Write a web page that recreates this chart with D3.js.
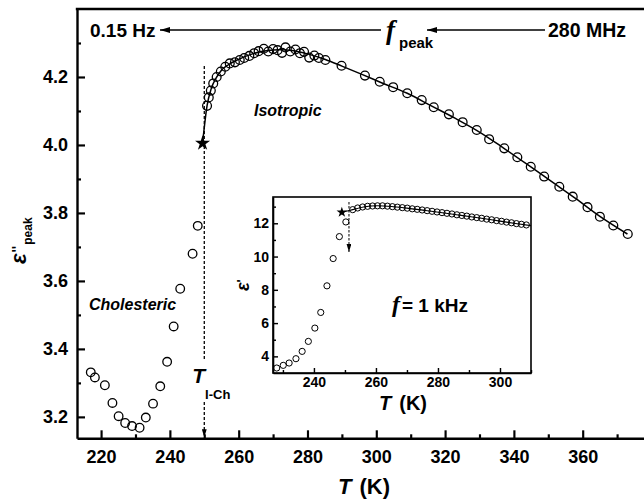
<!DOCTYPE html>
<html>
<head>
<meta charset="utf-8">
<script src="https://cdn.jsdelivr.net/npm/d3@7"></script>
<style>
  body { margin: 0; background: #fff; }
  text { font-family: "Liberation Sans", Arial, sans-serif; font-weight: bold; fill: #000; }
</style>
</head>
<body>
<svg id="chart" width="644" height="501"></svg>
<script>
// ---- main panel: dielectric loss peak amplitude vs temperature ----
const cholestericT   = [217.0, 218.2, 221.1, 223.3, 225.1, 227.0, 229.0, 231.2, 233.0, 235.1, 237.2, 239.2, 241.1, 243.0, 246.6, 248.1];
const cholestericEps = [3.331, 3.316, 3.293, 3.241, 3.202, 3.182, 3.173, 3.168, 3.198, 3.239, 3.290, 3.362, 3.466, 3.577, 3.680, 3.762];

const isotropicT   = [250.8, 251.3, 251.9, 252.6, 253.6, 254.8, 256.1, 257.4, 258.9, 260.3, 261.6, 263.1, 264.5, 265.8, 267.3, 268.6,
                      270.0, 271.3, 272.6, 273.6, 275.0, 276.5, 277.8, 279.0, 280.5, 282.0, 283.3, 285.2, 289.9, 296.7, 301.0, 304.9,
                      309.0, 313.2, 316.7, 321.1, 325.1, 329.2, 332.8, 337.2, 341.0, 344.9, 348.8, 353.2, 357.1, 361.4, 365.0, 368.9, 373.1];
const isotropicEps = [4.115, 4.140, 4.160, 4.181, 4.200, 4.216, 4.230, 4.240, 4.243, 4.250, 4.256, 4.262, 4.270, 4.276, 4.283, 4.275,
                      4.282, 4.279, 4.271, 4.287, 4.275, 4.281, 4.270, 4.274, 4.257, 4.263, 4.256, 4.250, 4.233, 4.204, 4.186, 4.170,
                      4.152, 4.132, 4.111, 4.090, 4.067, 4.044, 4.017, 3.990, 3.964, 3.936, 3.907, 3.877, 3.848, 3.817, 3.789, 3.763, 3.738];

const fitT   = [249.5, 250.8, 252.0, 253.5, 255.0, 257.0, 260.0, 264.0, 268.0, 272.0, 276.0, 280.0, 285.0, 290.0, 296.0, 302.0,
                309.0, 316.0, 323.0, 330.0, 337.0, 344.0, 351.0, 358.0, 365.0, 373.0];
const fitEps = [4.005, 4.115, 4.165, 4.198, 4.220, 4.236, 4.252, 4.268, 4.277, 4.280, 4.277, 4.268, 4.252, 4.232, 4.207, 4.181,
                4.152, 4.115, 4.078, 4.038, 3.991, 3.942, 3.892, 3.842, 3.790, 3.738];

const transitionT = 250.0;                 // T_I-Ch
const starMain = [249.5, 4.005];

const mainXTicks = [220, 240, 260, 280, 300, 320, 340, 360];
const mainXMinor = [230, 250, 270, 290, 310, 330, 350, 370];
const mainYTicks = [3.2, 3.4, 3.6, 3.8, 4.0, 4.2];
const mainYMinor = [3.3, 3.5, 3.7, 3.9, 4.1, 4.3];

// ---- inset: permittivity at 1 kHz ----
const insetLowT   = [228.0, 230.1, 232.0, 234.2, 236.2, 238.2, 240.3, 242.2, 244.2, 246.2, 248.2, 250.3];
const insetLowEps = [3.30, 3.46, 3.60, 3.86, 4.30, 4.90, 5.70, 6.64, 8.24, 9.88, 11.20, 12.08];

const insetHighT   = [252.5, 254.1, 255.7, 257.3, 258.9, 260.5, 262.1, 263.7, 265.3, 266.9, 268.5, 270.1, 271.7, 273.3, 274.9, 276.5,
                      278.1, 279.7, 281.3, 282.9, 284.5, 286.1, 287.7, 289.3, 290.9, 292.5, 294.1, 295.7, 297.3, 298.9, 300.5, 302.1,
                      303.7, 305.3, 306.9, 308.5];
const insetHighEps = [12.82, 12.92, 12.98, 13.02, 13.04, 13.05, 13.05, 13.03, 13.00, 12.97, 12.94, 12.91, 12.87, 12.84, 12.80, 12.76,
                      12.72, 12.68, 12.64, 12.60, 12.56, 12.51, 12.47, 12.43, 12.38, 12.34, 12.30, 12.25, 12.21, 12.16, 12.12, 12.07,
                      12.03, 11.98, 11.94, 11.90];

const insetFitT   = [249.0, 252.5, 256.0, 260.5, 265.0, 270.0, 276.0, 282.0, 288.0, 294.0, 300.0, 305.0, 310.0];
const insetFitEps = [12.66, 12.82, 12.98, 13.05, 13.01, 12.91, 12.77, 12.62, 12.46, 12.30, 12.13, 11.99, 11.86];

const starInset = [249.0, 12.66];
const insetArrowT = 251.3;

const insetXTicks = [240, 260, 280, 300];
const insetXMinor = [230, 250, 270, 290, 310];
const insetYTicks = [4, 6, 8, 10, 12];
const insetYMinor = [5, 7, 9, 11, 13];

// ------------------------------------------------------------------
const svg = d3.select("#chart");

const defs = svg.append("defs");
defs.append("marker").attr("id", "head").attr("viewBox", "0 0 10 6")
  .attr("refX", 10).attr("refY", 3).attr("markerUnits", "userSpaceOnUse")
  .attr("markerWidth", 11).attr("markerHeight", 6).attr("orient", "auto")
  .append("path").attr("d", "M0,0L10,3L0,6Z").attr("fill", "#000");
defs.append("marker").attr("id", "headSmall").attr("viewBox", "0 0 10 6")
  .attr("refX", 10).attr("refY", 3).attr("markerUnits", "userSpaceOnUse")
  .attr("markerWidth", 8).attr("markerHeight", 5).attr("orient", "auto")
  .append("path").attr("d", "M0,0L10,3L0,6Z").attr("fill", "#000");

// main scales
const x = d3.scaleLinear().domain([213, 380]).range([77, 651.5]);
const y = d3.scaleLinear().domain([3.137, 4.4]).range([438.3, 9]);

function styleAxis(g, w) {
  g.select(".domain").attr("stroke", "#000").attr("stroke-width", w);
  g.selectAll(".tick line").attr("stroke", "#000").attr("stroke-width", w * 0.9);
}

// bottom axis (ticks inward)
const gx = svg.append("g").attr("transform", `translate(0,${y.range()[0]})`)
  .call(d3.axisBottom(x).tickValues(mainXTicks).tickSizeInner(-8).tickSizeOuter(0).tickPadding(12).tickFormat(d3.format("d")));
gx.selectAll("text").style("font-size", "18px");
styleAxis(gx, 2.4);
const gxm = svg.append("g").attr("transform", `translate(0,${y.range()[0]})`)
  .call(d3.axisBottom(x).tickValues(mainXMinor).tickSizeInner(-4).tickSizeOuter(0).tickFormat(""));
gxm.select(".domain").remove();
styleAxis(gxm, 2.4);

// left axis
const gy = svg.append("g").attr("transform", `translate(${x.range()[0]},0)`)
  .call(d3.axisLeft(y).tickValues(mainYTicks).tickSizeInner(-8).tickSizeOuter(0).tickPadding(9).tickFormat(d3.format(".1f")));
gy.selectAll("text").style("font-size", "18px");
styleAxis(gy, 2.4);
const gym = svg.append("g").attr("transform", `translate(${x.range()[0]},0)`)
  .call(d3.axisLeft(y).tickValues(mainYMinor).tickSizeInner(-4).tickSizeOuter(0).tickFormat(""));
gym.select(".domain").remove();
styleAxis(gym, 2.4);

// top frame line
svg.append("line").attr("x1", x.range()[0] - 1.2).attr("x2", x.range()[1])
  .attr("y1", y.range()[1]).attr("y2", y.range()[1]).attr("stroke", "#000").attr("stroke-width", 2.4);

// axis titles
const xt = svg.append("text").attr("x", 338).attr("y", 494).style("font-size", "22px");
xt.append("tspan").text("T").style("font-style", "italic");
xt.append("tspan").text("(K)").attr("dx", 8);

const yt = svg.append("text").attr("transform", "translate(26,264) rotate(-90)");
yt.append("tspan").text("ε").style("font-style", "italic").style("font-size", "22px");
yt.append("tspan").text("''").style("font-size", "14px").attr("dx", 1).attr("dy", -4);
yt.append("tspan").text("peak").style("font-size", "12px").attr("dx", 1).attr("dy", 10);

// transition line with downward arrow, broken by its label
const tx = x(transitionT);
svg.append("line").attr("x1", tx).attr("x2", tx).attr("y1", 66).attr("y2", 360)
  .attr("stroke", "#000").attr("stroke-width", 1.3).attr("stroke-dasharray", "3,2");
svg.append("line").attr("x1", tx).attr("x2", tx).attr("y1", 402).attr("y2", y.range()[0] - 1)
  .attr("stroke", "#000").attr("stroke-width", 1.3).attr("stroke-dasharray", "3,2")
  .attr("marker-end", "url(#headSmall)");
const tl = svg.append("text").attr("x", tx - 12).attr("y", 383).style("font-size", "21px");
tl.append("tspan").text("T").style("font-style", "italic");
tl.append("tspan").text("I-Ch").style("font-size", "13px").attr("dx", 0).attr("dy", 16);

// fit curve through the isotropic points
const fitLine = d3.line().x(d => x(d[0])).y(d => y(d[1])).curve(d3.curveMonotoneX);
svg.append("path").datum(d3.zip(fitT, fitEps)).attr("d", fitLine)
  .attr("fill", "none").attr("stroke", "#000").attr("stroke-width", 1.5);

// data points
svg.append("g").selectAll("circle").data(d3.zip(cholestericT, cholestericEps)).join("circle")
  .attr("cx", d => x(d[0])).attr("cy", d => y(d[1])).attr("r", 4.3)
  .attr("fill", "none").attr("stroke", "#000").attr("stroke-width", 1.3);
svg.append("g").selectAll("circle").data(d3.zip(isotropicT, isotropicEps)).join("circle")
  .attr("cx", d => x(d[0])).attr("cy", d => y(d[1])).attr("r", 4.4)
  .attr("fill", "none").attr("stroke", "#000").attr("stroke-width", 1.3);

svg.append("path").attr("d", d3.symbol(d3.symbolStar, 70)())
  .attr("transform", `translate(${x(starMain[0])},${y(starMain[1])})`).attr("fill", "#000");

// phase labels
svg.append("text").attr("x", 254).attr("y", 116).style("font-size", "16px").style("font-style", "italic").text("Isotropic");
svg.append("text").attr("x", 89).attr("y", 310).style("font-size", "16px").style("font-style", "italic").text("Cholesteric");

// frequency-sweep annotation
svg.append("text").attr("x", 90).attr("y", 37).style("font-size", "19px").text("0.15 Hz");
svg.append("line").attr("x1", 381).attr("x2", 160).attr("y1", 30).attr("y2", 30)
  .attr("stroke", "#000").attr("stroke-width", 1.4).attr("marker-end", "url(#head)");
svg.append("text").attr("x", 386).attr("y", 39).style("font-family", "'Liberation Serif', serif")
  .style("font-style", "italic").style("font-weight", "bold").style("font-size", "27px").text("f");
svg.append("text").attr("x", 399).attr("y", 48).style("font-size", "15px").text("peak");
svg.append("line").attr("x1", 545).attr("x2", 427).attr("y1", 30).attr("y2", 30)
  .attr("stroke", "#000").attr("stroke-width", 1.4).attr("marker-end", "url(#head)");
svg.append("text").attr("x", 548).attr("y", 37).style("font-size", "19.5px").text("280 MHz");

// ---- inset ----
const ix = d3.scaleLinear().domain([226.8, 310]).range([273, 531]);
const iy = d3.scaleLinear().domain([3.0, 13.58]).range([373, 197]);

svg.append("rect").attr("x", 273).attr("y", 197).attr("width", 258).attr("height", 176)
  .attr("fill", "#fff").attr("stroke", "#000").attr("stroke-width", 1.6);

const igx = svg.append("g").attr("transform", "translate(0,373)")
  .call(d3.axisBottom(ix).tickValues(insetXTicks).tickSizeInner(-5).tickSizeOuter(0).tickPadding(4).tickFormat(d3.format("d")));
igx.selectAll("text").style("font-size", "14px");
styleAxis(igx, 1.6);
const igxm = svg.append("g").attr("transform", "translate(0,373)")
  .call(d3.axisBottom(ix).tickValues(insetXMinor).tickSizeInner(-3).tickSizeOuter(0).tickFormat(""));
igxm.select(".domain").remove();
styleAxis(igxm, 1.6);

const igy = svg.append("g").attr("transform", "translate(273,0)")
  .call(d3.axisLeft(iy).tickValues(insetYTicks).tickSizeInner(-5).tickSizeOuter(0).tickPadding(4).tickFormat(d3.format("d")));
igy.selectAll("text").style("font-size", "14px");
styleAxis(igy, 1.6);
const igym = svg.append("g").attr("transform", "translate(273,0)")
  .call(d3.axisLeft(iy).tickValues(insetYMinor).tickSizeInner(-3).tickSizeOuter(0).tickFormat(""));
igym.select(".domain").remove();
styleAxis(igym, 1.6);

const ixt = svg.append("text").attr("x", 379).attr("y", 410).style("font-size", "20px");
ixt.append("tspan").text("T").style("font-style", "italic");
ixt.append("tspan").text("(K)").attr("dx", 8);

const iyt = svg.append("text").attr("transform", "translate(249,291) rotate(-90)");
iyt.append("tspan").text("ε").style("font-style", "italic").style("font-size", "18px");
iyt.append("tspan").text("'").style("font-size", "13px").attr("dy", -3);

const fl = svg.append("text").attr("x", 392).attr("y", 312).style("font-size", "19px");
fl.append("tspan").text("f").style("font-family", "'Liberation Serif', serif").style("font-style", "italic")
  .style("font-weight", "bold").style("font-size", "24px");
fl.append("tspan").text("= 1 kHz").attr("dx", 2);

const insetClip = defs.append("clipPath").attr("id", "insetClip");
insetClip.append("rect").attr("x", 273).attr("y", 197).attr("width", 258).attr("height", 176);

const ig = svg.append("g").attr("clip-path", "url(#insetClip)");
ig.append("line").attr("x1", ix(insetArrowT)).attr("x2", ix(insetArrowT)).attr("y1", 202).attr("y2", 252)
  .attr("stroke", "#000").attr("stroke-width", 1).attr("stroke-dasharray", "2.5,1.5")
  .attr("marker-end", "url(#headSmall)");
const insetLine = d3.line().x(d => ix(d[0])).y(d => iy(d[1])).curve(d3.curveMonotoneX);
ig.append("path").datum(d3.zip(insetFitT, insetFitEps)).attr("d", insetLine)
  .attr("fill", "none").attr("stroke", "#000").attr("stroke-width", 1.1);
ig.append("g").selectAll("circle").data(d3.zip(insetLowT, insetLowEps).concat(d3.zip(insetHighT, insetHighEps))).join("circle")
  .attr("cx", d => ix(d[0])).attr("cy", d => iy(d[1])).attr("r", 3.1)
  .attr("fill", "none").attr("stroke", "#000").attr("stroke-width", 1);
ig.append("path").attr("d", d3.symbol(d3.symbolStar, 35)())
  .attr("transform", `translate(${ix(starInset[0])},${iy(starInset[1])})`).attr("fill", "#000");
</script>
</body>
</html>
